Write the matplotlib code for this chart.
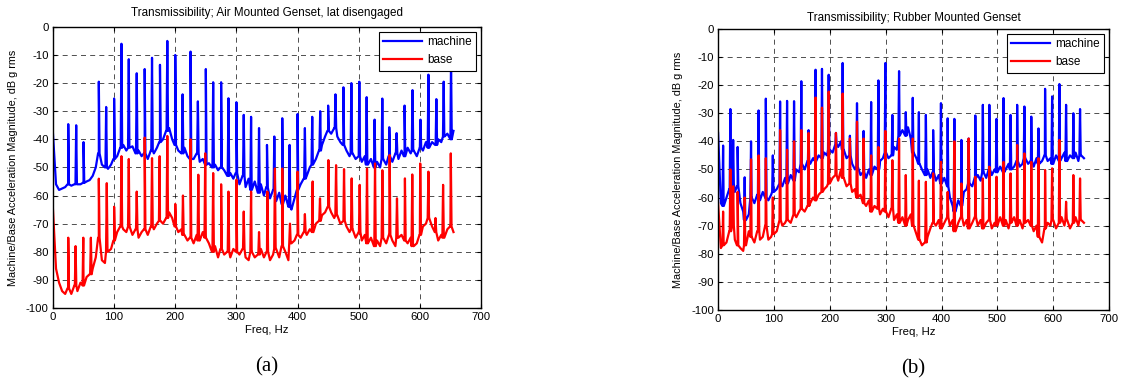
import numpy as np
import matplotlib
matplotlib.use("Agg")
import matplotlib.pyplot as plt

plt.rcParams['font.family'] = ['Liberation Sans', 'DejaVu Sans']
plt.rcParams['axes.unicode_minus'] = False

# floor of the spectra, sampled every 5 Hz (0..655 Hz)
floor_freq = np.arange(0, 660, 5)

# (a) air mounted genset
air_machine_floor = [
    -38, -56, -58, -57.5, -57, -56, -56.5, -56, -56, -56, -55.5, -55, -54.5, -53, -50, -45,
    -49, -50, -50.5, -49, -47, -46, -43, -42, -44, -43, -42.5, -45, -44, -46, -45, -47,
    -44, -45, -43, -41, -40, -37, -36, -40, -42, -44, -45, -43, -46, -47, -47, -45,
    -48, -47, -49, -48.5, -50, -49, -51, -50, -51, -53, -52, -54, -52, -56, -53, -57,
    -54, -58, -55, -59, -56, -60, -57, -61, -58, -62, -59, -63, -60, -64, -65, -61,
    -58, -56, -54, -53, -50, -49, -47, -44, -42, -39, -37, -38, -36, -39, -41, -42,
    -44, -46, -45, -47, -46, -48, -46, -49, -47, -50, -48, -50, -47, -49, -46, -48,
    -45, -47, -44, -46, -43, -45, -44, -46, -43, -44, -41, -43, -41, -42, -40, -41,
    -39, -38, -40, -37,
]
air_machine_peak_freq = [
    25, 38, 50, 75, 87, 100, 112, 124, 137, 150, 162, 175, 187, 200, 212, 225, 237, 250,
    262, 275, 287, 300, 312, 324, 337, 350, 362, 375, 387, 400, 412, 424, 437, 450, 462,
    475, 488, 501, 513, 526, 538.6, 550, 562, 575, 588, 601, 614, 627, 639, 651,
]
air_machine_peak_db = [
    -34.6, -35, -41, -19.5, -28.5, -25.5, -6, -11.5, -16.5, -15, -11, -13.5, -5, -10, -24,
    -8.8, -26.5, -15, -19.7, -19.7, -25.4, -26.8, -31.3, -32, -36, -42, -39, -32.5, -42,
    -31, -36, -32, -30, -28, -24, -21.5, -20, -19.5, -25, -33, -25.5, -35.7, -37.8, -28,
    -22.5, -33, -17, -25.7, -19.5, -11,
]

air_base_floor = [
    -65, -86, -91, -94, -95, -93, -95, -92, -94, -91, -92, -89, -88, -86, -82, -75,
    -83, -84, -80, -79, -76, -73, -71, -72, -73, -71, -74, -72, -75, -73, -72, -74,
    -71, -72, -70, -69, -70, -68, -66, -68, -71, -73, -72, -74, -76, -75, -77, -74,
    -76, -73, -75, -77, -80, -78, -82, -79, -81, -80, -82, -79, -80, -81, -79, -82,
    -83, -80, -82, -81, -79, -82, -80, -83, -81, -79, -82, -78, -80, -83, -77, -76,
    -74, -75, -73, -74, -72, -73, -70, -69, -67, -66, -64, -66, -68, -67, -70, -69,
    -71, -73, -72, -75, -73, -76, -74, -77, -75, -78, -76, -78, -75, -77, -74, -76,
    -78, -75, -74, -76, -77, -75, -78, -77, -74, -71, -70, -68, -71, -73, -76, -74,
    -75, -72, -71, -73,
]
air_base_peak_freq = [
    25, 37, 49.6, 62, 75, 88, 100, 112, 124, 137, 150, 162, 174.5, 187, 200, 212.6, 225,
    237.7, 249, 262, 275, 287, 300, 312, 324, 337, 350.6, 363, 375, 387.6, 400, 412,
    424.7, 436.7, 450.4, 463, 476, 488.5, 501.6, 513.6, 526.7, 538.7, 550.6, 562.6,
    575.6, 587.6, 600.6, 614, 625.6, 638, 650.6,
]
air_base_peak_db = [
    -75, -78, -75, -75, -54, -55.6, -64, -46, -47, -58.6, -39.4, -46.7, -46, -38.8, -63,
    -60, -40, -52.6, -45, -52, -56, -58.6, -54.4, -65.7, -58.6, -73, -58.6, -50.4, -50.4,
    -70, -51.5, -66.6, -55, -61, -47.4, -49.2, -50.6, -53.9, -56.2, -50.4, -48.6, -51,
    -45.6, -61, -53.9, -52.5, -48.6, -51.5, -68, -56.2, -45,
]

# (b) rubber mounted genset
rubber_machine_floor = [
    -37, -62, -63, -60, -57, -55, -58, -56, -62, -65, -68, -66, -60, -62, -59, -61,
    -58, -60, -61, -59, -58, -57, -55, -56, -53, -55, -52, -54, -50, -51, -48, -50,
    -47, -48, -46, -47, -45, -46, -44, -45, -43, -44, -41, -42, -40, -43, -46, -45,
    -48, -50, -49, -52, -51, -53, -50, -52, -49, -50, -47, -46, -44, -46, -45, -42,
    -43, -38, -36, -38, -35, -39, -44, -46, -48, -50, -52, -50, -53, -51, -54, -52,
    -55, -53, -56, -60, -63, -65, -61, -63, -58, -57, -55, -56, -53, -52, -54, -51,
    -53, -50, -52, -50, -51, -49, -51, -50, -48, -50, -49, -47, -49, -48, -46, -48,
    -47, -49, -46, -48, -47, -45, -47, -46, -48, -45, -47, -46, -44, -47, -45, -46,
    -44, -47, -45, -46,
]
rubber_machine_peak_freq = [
    9, 22, 27, 35, 47.6, 59, 72.5, 85.5, 98, 111, 123.5, 136, 149, 162, 174.5, 186, 198,
    211, 223, 236, 248.7, 260.5, 274, 287, 299.5, 312, 324, 336, 348.5, 359.5, 372, 385,
    399, 411, 423, 435.6, 448.6, 460.5, 474, 485.6, 498.5, 511, 523.6, 535.4, 548.4,
    560.7, 573.6, 585.4, 598, 611, 623, 636, 648,
]
rubber_machine_peak_db = [
    -41.5, -28.5, -39.5, -42, -52.8, -40, -29, -24.8, -45, -25.8, -25.6, -25.7, -18.6,
    -36, -14.5, -14.2, -16.3, -37, -12.1, -38, -26.4, -36.3, -26, -18.3, -12.1, -30.6,
    -15, -29.6, -24.5, -29.6, -30.6, -36, -26.4, -31.8, -32, -39.5, -39, -30.8, -27, -27,
    -32, -24.6, -30.6, -27, -27.6, -31.2, -35.4, -21.3, -24, -19.6, -27, -30, -28.5,
]

rubber_base_floor = [
    -62, -78, -77, -76, -72, -70, -75, -77, -78, -79, -77, -72, -74, -76, -72, -75,
    -74, -70, -75, -74, -73, -72, -68, -70, -69, -68, -69, -66, -67, -65, -64, -65,
    -63, -62, -60, -61, -59, -58, -57, -56, -55, -53, -52, -54, -50, -53, -56, -55,
    -58, -57, -60, -59, -62, -63, -61, -65, -63, -64, -66, -64, -65, -67, -64, -68,
    -66, -69, -67, -70, -68, -66, -70, -73, -75, -77, -76, -74, -71, -69, -70, -68,
    -71, -69, -67, -70, -68, -72, -69, -67, -70, -68, -71, -69, -67, -70, -68, -71,
    -69, -68, -71, -69, -70, -67, -70, -68, -71, -69, -67, -70, -68, -71, -69, -68,
    -70, -72, -70, -74, -76, -71, -69, -70, -68, -71, -69, -67, -70, -68, -71, -69,
    -67, -70, -68, -69,
]
rubber_base_peak_freq = rubber_machine_peak_freq
rubber_base_peak_db = [
    -65, -50, -56, -58, -60, -46.4, -45, -46, -60, -36, -43, -40, -36, -37, -24.4, -28,
    -22.3, -37, -23, -39, -33, -39, -45, -42, -36.3, -46.7, -39, -52, -39, -54, -54.4,
    -51.4, -47.3, -58, -40, -55, -39, -52.6, -53.2, -49, -52.6, -47.3, -51.4, -41.3,
    -44.3, -47.3, -46, -50.2, -49.6, -39.5, -61.5, -52, -53.2,
]

freq_ticks = [0, 100, 200, 300, 400, 500, 600, 700]
db_ticks = [-100, -90, -80, -70, -60, -50, -40, -30, -20, -10, 0]


def spectrum(floor_db, peak_freq, peak_db):
    # each peak is a narrow spike standing on the nearest floor sample
    floor_db = np.asarray(floor_db, dtype=float)
    pf = np.asarray(peak_freq, dtype=float)
    idx = np.clip(np.round(pf / 5).astype(int), 0, len(floor_db) - 1)
    base = floor_db[idx]
    w = 1.2
    f = np.concatenate([floor_freq, pf - w, pf, pf + w])
    d = np.concatenate([floor_db, base, peak_db, base])
    order = np.argsort(f, kind="stable")
    return f[order], d[order]


def panel(ax, title, machine, base, label, title_pad):
    fm, dm = spectrum(*machine)
    fb, db = spectrum(*base)
    ax.plot(fm, dm, color=(0, 0, 1), lw=1.6, label="machine")
    ax.plot(fb, db, color=(1, 0, 0), lw=1.6, label="base")
    ax.set_xlim(0, 700)
    ax.set_ylim(-100, 0)
    ax.set_xticks(freq_ticks)
    ax.set_yticks(db_ticks)
    ax.grid(True, color="black", linestyle=(0, (6, 5)), lw=0.6, alpha=0.8)
    ax.tick_params(direction="in", top=True, right=True, length=3, labelsize=8.2, pad=3)
    for s in ax.spines.values():
        s.set_linewidth(1.0)
    ax.set_title(title, fontsize=8.4, pad=title_pad)
    ax.set_xlabel("Freq, Hz", fontsize=8.2, labelpad=2)
    ax.set_ylabel("Machine/Base Acceleration Magnitude, dB g rms", fontsize=7.8)
    leg = ax.legend(loc="upper right", fontsize=8.5, fancybox=False, edgecolor="black",
                    framealpha=1, handlelength=3.3, handletextpad=0.4, borderpad=0.4,
                    labelspacing=0.5, borderaxespad=0.4)
    leg.get_frame().set_linewidth(0.8)
    ax.text(0.5, -0.21, label, transform=ax.transAxes, ha="center", va="center",
            fontsize=15, family="Liberation Serif")


fig = plt.figure(figsize=(11.22, 3.84), dpi=100)
ax1 = fig.add_axes([0.0472, 0.198, 0.3815, 0.732])
ax2 = fig.add_axes([0.640, 0.193, 0.3485, 0.7315])

panel(ax1, "Transmissibility; Air Mounted Genset, lat disengaged",
      (air_machine_floor, air_machine_peak_freq, air_machine_peak_db),
      (air_base_floor, air_base_peak_freq, air_base_peak_db), "(a)", 8)
panel(ax2, "Transmissibility; Rubber Mounted Genset",
      (rubber_machine_floor, rubber_machine_peak_freq, rubber_machine_peak_db),
      (rubber_base_floor, rubber_base_peak_freq, rubber_base_peak_db), "(b)", 6)
ax1.yaxis.set_label_coords(-0.082, 0.5)
ax2.yaxis.set_label_coords(-0.09, 0.5)

fig.savefig("out.png", dpi=100)
